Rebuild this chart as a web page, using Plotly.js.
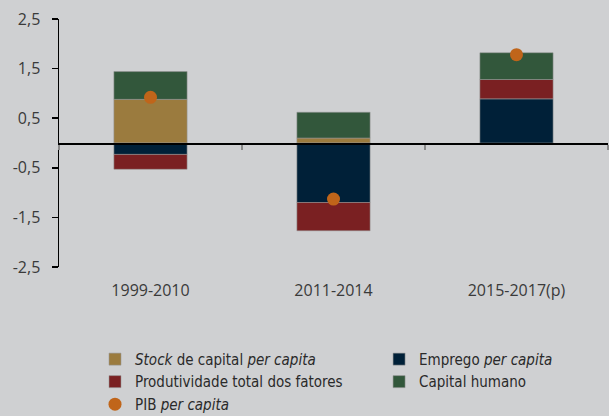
<!DOCTYPE html>
<html>
<head>
<meta charset="utf-8">
<script src="https://cdn.plot.ly/plotly-3.0.1.min.js"></script>
<style>html,body{margin:0;padding:0;background:#cfd0d2;}#chart{width:609px;height:416px;}</style>
</head>
<body>
<div id="chart"></div>
<script>
const categories = ['1999-2010', '2011-2014', '2015-2017(p)'];
const stockCapital = [0.88, 0.10, -0.03];
const emprego = [-0.23, -1.20, 0.89];
const produtividade = [-0.30, -0.57, 0.39];
const capitalHumano = [0.56, 0.52, 0.54];
const pib = [0.92, -1.13, 1.78];
const yTickVals = [-2.5, -1.5, -0.5, 0.5, 1.5, 2.5];
const yTickText = ['-2,5', '-1,5', '-0,5', '0,5', '1,5', '2,5'];

const barLine = {width: 1, color: 'rgba(150,150,150,0.55)'};
function bar(name, y, color, legend) {
  return {type: 'bar', name: name, x: categories, y: y, legend: legend,
    marker: {color: color, line: barLine}, hoverinfo: 'y'};
}
const traces = [
  bar('<i>Stock</i> de capital <i>per capita</i>', stockCapital, '#9b7b3e', 'legend'),
  bar('Emprego <i>per capita</i>', emprego, '#002038', 'legend2'),
  bar('Produtividade total dos fatores', produtividade, '#7a2022', 'legend'),
  bar('Capital humano', capitalHumano, '#32573b', 'legend2'),
  {type: 'scatter', mode: 'markers', name: 'PIB <i>per capita</i>', x: categories, y: pib,
   xaxis: 'x2', legend: 'legend', marker: {color: '#c0651a', size: 13}}
];

const legendFont = {family: 'DejaVu Sans Condensed, sans-serif', size: 15, color: '#2a2a2a'};
const layout = {
  width: 609, height: 416,
  paper_bgcolor: '#cfd0d2', plot_bgcolor: '#cfd0d2',
  margin: {l: 59, r: 1, t: 19, b: 149, autoexpand: false},
  barmode: 'relative', bargap: 0.6,
  font: {family: 'Open Sans, sans-serif', size: 16, color: '#3a3a3a'},
  xaxis: {type: 'category', showline: false, ticks: '', showgrid: false, zeroline: false,
    ticklabelstandoff: 12, range: [-0.5, 2.5]},
  xaxis2: {type: 'category', overlaying: 'x', matches: 'x', anchor: 'free', position: 0.5,
    showline: true, linecolor: '#000', linewidth: 1.5, ticks: 'outside', tickson: 'boundaries',
    ticklen: 5, tickwidth: 2, tickcolor: '#8a8a8a', showticklabels: false, showgrid: false, zeroline: false},
  yaxis: {range: [-2.5, 2.5], tickvals: yTickVals, ticktext: yTickText, showgrid: false,
    zeroline: false, showline: true, linecolor: '#000', linewidth: 1.5, ticks: 'outside',
    ticklen: 6, tickwidth: 1.5, tickcolor: '#000', ticklabelstandoff: 8},
  showlegend: true,
  legend: {orientation: 'v', x: 0.0656, xanchor: 'left', y: -0.306, yanchor: 'top',
    traceorder: 'normal', font: legendFont, bgcolor: 'rgba(0,0,0,0)', itemwidth: 30},
  legend2: {orientation: 'v', x: 0.583, xanchor: 'left', y: -0.306, yanchor: 'top',
    traceorder: 'normal', font: legendFont, bgcolor: 'rgba(0,0,0,0)', itemwidth: 30}
};
Plotly.newPlot('chart', traces, layout, {displayModeBar: false, staticPlot: true});
</script>
</body>
</html>
